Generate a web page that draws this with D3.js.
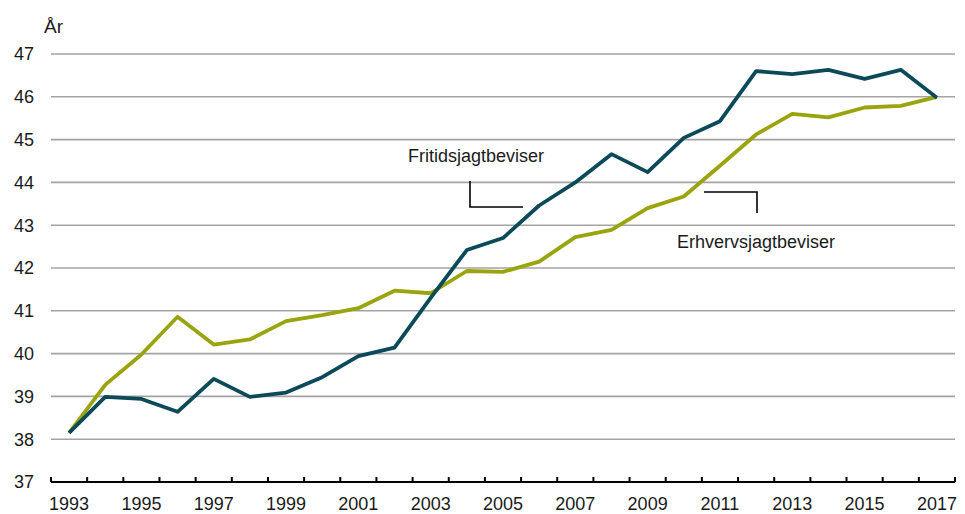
<!DOCTYPE html>
<html>
<head>
<meta charset="utf-8">
<script src="https://cdn.jsdelivr.net/npm/d3@7"></script>
<style>
  body { margin: 0; background: #fff; }
  text { font-family: "Liberation Sans", Arial, sans-serif; fill: #1a1a1a; }
</style>
</head>
<body>
<div id="chart"></div>
<script>

var years = d3.range(1993, 2018);

// Fritidsjagtbeviser (dark line)
var fritid = [38.15, 38.99, 38.94, 38.64, 39.41, 38.99, 39.09, 39.45, 39.94, 40.14,
              41.3, 42.42, 42.7, 43.46, 44.0, 44.66, 44.24, 45.04, 45.43, 46.6,
              46.53, 46.63, 46.42, 46.63, 45.98];

// Erhvervsjagtbeviser (olive line)
var erhverv = [38.15, 39.27, 39.98, 40.86, 40.21, 40.33, 40.76, 40.9, 41.06, 41.47,
               41.41, 41.93, 41.91, 42.15, 42.72, 42.89, 43.4, 43.67, 44.39, 45.12,
               45.6, 45.52, 45.75, 45.79, 46.0];

var yTicks = [37, 38, 39, 40, 41, 42, 43, 44, 45, 46, 47];
var xLabels = years.filter(function (d) { return (d - 1993) % 2 === 0; });

var margin = { left: 51, right: 10, top: 54, bottom: 32 };
var width = 965 - margin.left - margin.right;
var height = 514 - margin.top - margin.bottom;

var svg = d3.select("#chart")
  .append("svg")
  .attr("width", 965)
  .attr("height", 514)
  .append("g")
  .attr("transform", "translate(" + margin.left + "," + margin.top + ")");

var xScale = d3.scaleBand()
  .domain(years)
  .range([0, width]);

var yScale = d3.scaleLinear()
  .domain([37, 47])
  .range([height, 0]);

function xc(d) { return xScale(d) + xScale.bandwidth() / 2; }

// gridlines
svg.selectAll(".grid")
  .data(yTicks.filter(function (d) { return d > 37; }))
  .enter()
  .append("line")
  .attr("class", "grid")
  .attr("x1", 0)
  .attr("x2", width)
  .attr("y1", function (d) { return yScale(d); })
  .attr("y2", function (d) { return yScale(d); })
  .attr("stroke", "#a3a3a3")
  .attr("stroke-width", 1.6);

// y labels
svg.selectAll(".ylab")
  .data(yTicks)
  .enter()
  .append("text")
  .attr("class", "ylab")
  .attr("x", -17)
  .attr("y", function (d) { return yScale(d); })
  .attr("dy", "0.36em")
  .style("text-anchor", "end")
  .style("font-size", "18px")
  .text(function (d) { return d; });

svg.append("text")
  .attr("x", -7)
  .attr("y", -21)
  .style("font-size", "19px")
  .text("År");

// x axis: baseline with ticks at category boundaries pointing up
svg.append("line")
  .attr("x1", 0)
  .attr("x2", width)
  .attr("y1", height)
  .attr("y2", height)
  .attr("stroke", "#000")
  .attr("stroke-width", 2);

var bounds = years.map(function (d) { return xScale(d); }).concat([width]);
svg.selectAll(".xtick")
  .data(bounds)
  .enter()
  .append("line")
  .attr("class", "xtick")
  .attr("x1", function (d) { return d; })
  .attr("x2", function (d) { return d; })
  .attr("y1", height)
  .attr("y2", height - 5)
  .attr("stroke", "#000")
  .attr("stroke-width", 2);

svg.selectAll(".xlab")
  .data(xLabels)
  .enter()
  .append("text")
  .attr("class", "xlab")
  .attr("x", function (d) { return xc(d); })
  .attr("y", height + 28)
  .style("text-anchor", "middle")
  .style("font-size", "18px")
  .text(function (d) { return d; });

// lines
var line = d3.line()
  .x(function (d, i) { return xc(years[i]); })
  .y(function (d) { return yScale(d); });

svg.append("path")
  .datum(erhverv)
  .attr("fill", "none")
  .attr("stroke", "#99a40e")
  .attr("stroke-width", 3.8)
  .attr("stroke-linejoin", "round")
  .attr("d", line);

svg.append("path")
  .datum(fritid)
  .attr("fill", "none")
  .attr("stroke", "#0c4a5a")
  .attr("stroke-width", 3.8)
  .attr("stroke-linejoin", "round")
  .attr("d", line);

// annotations
svg.append("text")
  .attr("x", 357)
  .attr("y", 108)
  .style("font-size", "18px")
  .text("Fritidsjagtbeviser");

svg.append("path")
  .attr("d", "M419,127V153H472")
  .attr("fill", "none")
  .attr("stroke", "#000")
  .attr("stroke-width", 1.6);

svg.append("text")
  .attr("x", 626)
  .attr("y", 194)
  .style("font-size", "18px")
  .text("Erhvervsjagtbeviser");

svg.append("path")
  .attr("d", "M653,138H706V159")
  .attr("fill", "none")
  .attr("stroke", "#000")
  .attr("stroke-width", 1.6);

</script>
</body>
</html>
